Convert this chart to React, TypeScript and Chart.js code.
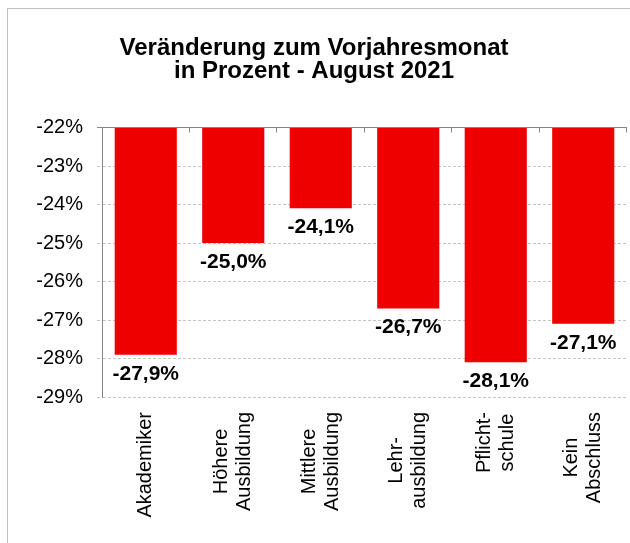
import React, { useEffect, useRef } from "react";
import { Chart, registerables } from "chart.js";

Chart.register(...registerables);

// ---- data ----
const TITLE_LINES = ["Veränderung zum Vorjahresmonat", "in Prozent - August 2021"];
const CATEGORIES: string[][] = [
  ["Akademiker"],
  ["Höhere", "Ausbildung"],
  ["Mittlere", "Ausbildung"],
  ["Lehr-", "ausbildung"],
  ["Pflicht-", "schule"],
  ["Kein", "Abschluss"],
];
const VALUES = [-27.9, -25.0, -24.1, -26.7, -28.1, -27.1];
const Y_MIN = -29;
const Y_MAX = -22;
const Y_STEP = 1;

// ---- styles ----
const FONT = "'Liberation Sans', Arial, Helvetica, sans-serif";
const BAR_COLOR = "#ee0000";
const AXIS_COLOR = "#868686";
const GRID_COLOR = "#c4c4c4";

const fmtPct = (v: number, d: number) => v.toFixed(d).replace(".", ",") + "%";

const isTop = (c: any) => c && c.tick && c.tick.value === Y_MAX;

const customDraw = {
  id: "customDraw",
  afterDatasetsDraw(chart: any) {
    const { ctx, chartArea } = chart;
    const xs = chart.scales.x;
    ctx.save();
    // category boundary tick marks along the top axis
    ctx.strokeStyle = AXIS_COLOR;
    ctx.lineWidth = 1;
    const n = CATEGORIES.length;
    const w = (chartArea.right - chartArea.left) / n;
    for (let i = 1; i <= n; i++) {
      const px = Math.round(chartArea.left + i * w) - 0.5;
      ctx.beginPath();
      ctx.moveTo(px, chartArea.top);
      ctx.lineTo(px, chartArea.top + 5);
      ctx.stroke();
    }
    // data labels
    const meta = chart.getDatasetMeta(0);
    ctx.fillStyle = "#000";
    ctx.font = `bold 21px ${FONT}`;
    ctx.textAlign = "center";
    ctx.textBaseline = "alphabetic";
    meta.data.forEach((bar: any, i: number) => {
      ctx.fillText(fmtPct(VALUES[i], 1), bar.x, bar.y + 25);
    });
    // category labels (rotated)
    ctx.font = `20px ${FONT}`;
    ctx.textBaseline = "middle";
    CATEGORIES.forEach((lines, i) => {
      const xc = xs.getPixelForValue(i);
      const top = chartArea.bottom + 15;
      const L = Math.max(...lines.map((l) => ctx.measureText(l).width));
      ctx.save();
      ctx.translate(xc, top);
      ctx.rotate(-Math.PI / 2);
      lines.forEach((line, j) => {
        ctx.fillText(line, -L / 2, (j - (lines.length - 1) / 2) * 23);
      });
      ctx.restore();
    });
    // title
    ctx.font = `bold 24px ${FONT}`;
    ctx.textBaseline = "alphabetic";
    ctx.textAlign = "center";
    TITLE_LINES.forEach((t, j) => ctx.fillText(t, chart.width / 2 - 5, 46 + j * 23));
    ctx.restore();
  },
};

export default function App() {
  const ref = useRef<HTMLCanvasElement | null>(null);
  useEffect(() => {
    if (!ref.current) return;
    const chart = new Chart(ref.current, {
      type: "bar",
      data: {
        labels: CATEGORIES.map((l) => l.join(" ")),
        datasets: [
          {
            data: VALUES,
            base: Y_MAX,
            backgroundColor: BAR_COLOR,
            borderWidth: 0,
            barPercentage: 0.71,
            categoryPercentage: 1,
          } as any,
        ],
      },
      options: {
        animation: false,
        responsive: true,
        maintainAspectRatio: false,
        layout: { padding: { top: 118.5, right: 3, left: 0, bottom: 0 } },
        plugins: {
          legend: { display: false },
          title: { display: false },
          tooltip: { enabled: false },
        },
        scales: {
          x: {
            ticks: { display: false },
            grid: { display: false },
            border: { display: false },
            afterFit: (s: any) => {
              s.height = 146;
            },
          },
          y: {
            min: Y_MIN,
            max: Y_MAX,
            ticks: {
              stepSize: Y_STEP,
              color: "#000",
              padding: 14,
              font: { size: 20, family: FONT },
              callback: (v: any) => fmtPct(Number(v), 0),
            },
            grid: {
              color: (c: any) => (isTop(c) ? AXIS_COLOR : GRID_COLOR),
              tickColor: (c: any) => (isTop(c) ? AXIS_COLOR : GRID_COLOR),
              tickLength: 5,
              tickBorderDash: (c: any) => (isTop(c) ? [] : [3, 2]),
            },
            border: {
              display: true,
              color: AXIS_COLOR,
              dash: (c: any) => (isTop(c) ? [] : [3, 2]),
            },
            afterFit: (s: any) => {
              s.width = 94;
            },
          },
        },
      },
      plugins: [customDraw],
    } as any);
    return () => chart.destroy();
  }, []);

  return (
    <div
      style={{
        position: "absolute",
        left: 7,
        top: 8,
        width: 623,
        height: 535,
        borderTop: "1px solid #c0c0c0",
        borderLeft: "1px solid #c0c0c0",
        boxSizing: "border-box",
        background: "#fff",
      }}
    >
      <div style={{ position: "relative", width: "100%", height: "100%" }}>
        <canvas ref={ref} />
      </div>
    </div>
  );
}
